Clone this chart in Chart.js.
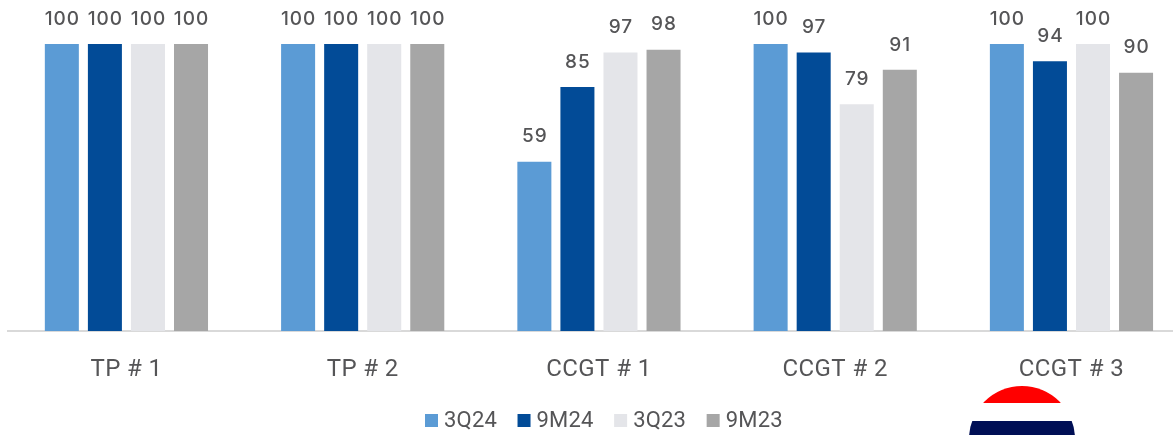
<!DOCTYPE html>
<html>
<head>
<meta charset="utf-8">
<title>Plant availability</title>
<script src="https://cdn.jsdelivr.net/npm/chart.js@4"></script>
<style>
  html, body { margin: 0; padding: 0; background: #fff; overflow: hidden; }
  #wrap { position: relative; width: 1196px; height: 435px; }
</style>
</head>
<body>
<div id="wrap"><canvas id="availabilityChart"></canvas></div>
<script>
const categories = ['TP # 1', 'TP # 2', 'CCGT # 1', 'CCGT # 2', 'CCGT # 3'];
const values3Q24 = [100, 100, 59, 100, 100];
const values9M24 = [100, 100, 85, 97, 94];
const values3Q23 = [100, 100, 97, 79, 100];
const values9M23 = [100, 100, 98, 91, 90];

const textColor = '#555557';

// Slightly open tracking for the category labels
const tracking = {
  id: 'tracking',
  beforeDraw(chart) {
    chart.ctx.letterSpacing = '0.4px';
  }
};

// Prints each value above its bar
const barValues = {
  id: 'barValues',
  afterDatasetsDraw(chart) {
    const { ctx } = chart;
    ctx.save();
    ctx.font = "500 19px Inter, sans-serif";
    ctx.letterSpacing = '1px';
    ctx.fillStyle = textColor;
    ctx.textAlign = 'center';
    ctx.textBaseline = 'middle';
    chart.data.datasets.forEach((ds, i) => {
      chart.getDatasetMeta(i).data.forEach((bar, j) => {
        ctx.fillText(ds.data[j], bar.x + 0.5, bar.y - 25);
      });
    });
    ctx.restore();
  }
};

// Legend row: tighter swatch-to-text gap than the built-in legend allows
const legendRow = {
  id: 'legendRow',
  afterDraw(chart) {
    const { ctx } = chart;
    let x = 425;
    ctx.save();
    ctx.font = "22px Roboto, sans-serif";
    ctx.letterSpacing = '0.2px';
    ctx.textAlign = 'left';
    ctx.textBaseline = 'middle';
    chart.data.datasets.forEach(ds => {
      ctx.fillStyle = ds.backgroundColor;
      ctx.fillRect(x, 414, 13, 13);
      ctx.fillStyle = textColor;
      ctx.fillText(ds.label, x + 19, 421);
      x += 19 + ctx.measureText(ds.label).width + 20.5;
    });
    ctx.restore();
  }
};

// Round flag badge sitting on the bottom edge of the page
const flagBadge = {
  id: 'flagBadge',
  afterDraw(chart) {
    const { ctx } = chart;
    const cx = 1022, cy = 439, r = 53;
    ctx.save();
    ctx.beginPath();
    ctx.arc(cx, cy, r, 0, Math.PI * 2);
    ctx.clip();
    ctx.fillStyle = '#ff0000';
    ctx.fillRect(cx - r, cy - r, r * 2, 17);
    ctx.fillStyle = '#ffffff';
    ctx.fillRect(cx - r, 403, r * 2, 18);
    ctx.fillStyle = '#000f55';
    ctx.fillRect(cx - r, 421, r * 2, 20);
    ctx.restore();
  }
};

new Chart(document.getElementById('availabilityChart'), {
  type: 'bar',
  data: {
    labels: categories,
    datasets: [
      { label: '3Q24', data: values3Q24, backgroundColor: '#5b9bd5' },
      { label: '9M24', data: values9M24, backgroundColor: '#024b97' },
      { label: '3Q23', data: values3Q23, backgroundColor: '#e4e5e9' },
      { label: '9M23', data: values9M23, backgroundColor: '#a6a6a6' }
    ]
  },
  options: {
    responsive: true,
    maintainAspectRatio: false,
    animation: false,
    layout: { padding: { top: 44, left: 8.3, right: 6.4, bottom: 40 } },
    categoryPercentage: 0.729,
    barPercentage: 0.79,
    plugins: {
      tooltip: { enabled: false },
      legend: { display: false }
    },
    scales: {
      x: {
        grid: { display: false, drawTicks: false },
        border: { color: '#d9d9d9', width: 2 },
        ticks: {
          color: textColor,
          padding: 25,
          maxRotation: 0,
          font: { family: "Roboto, sans-serif", size: 24 }
        },
        afterFit(scale) { scale.height = 64; }
      },
      y: {
        display: false,
        min: 0,
        max: 100
      }
    }
  },
  plugins: [tracking, barValues, legendRow, flagBadge]
});
</script>
</body>
</html>
